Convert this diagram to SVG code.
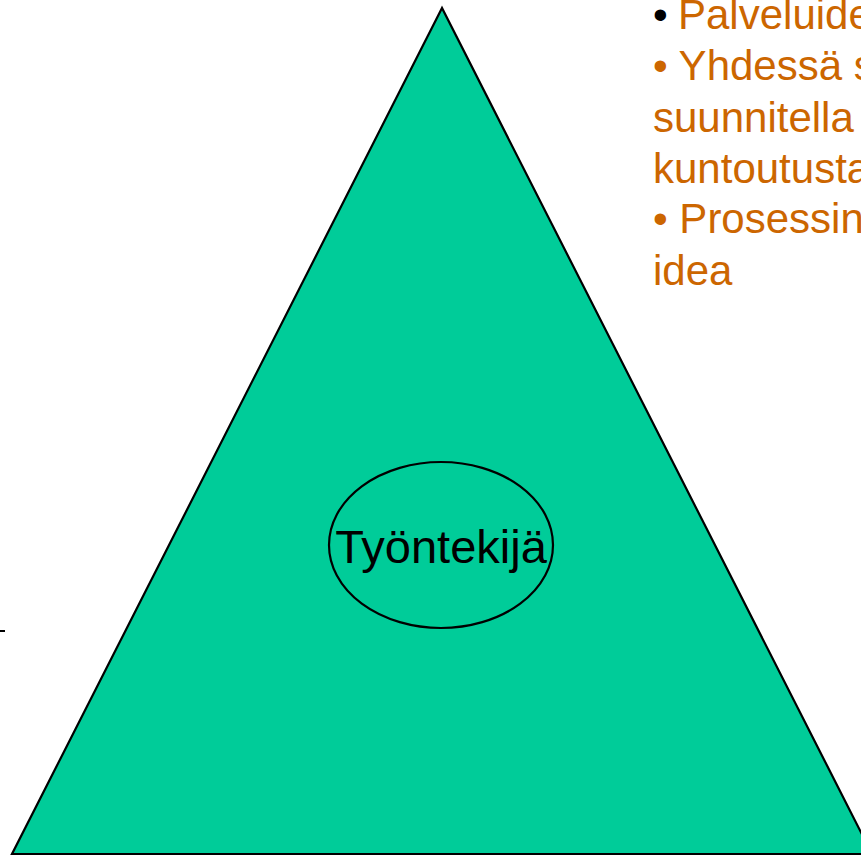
<svg xmlns="http://www.w3.org/2000/svg" width="861" height="856" viewBox="0 0 861 856">
<style>
.shape{stroke:#000;stroke-width:2.2;}
.txt{font-family:"Liberation Sans",Arial,sans-serif;font-size:42px;fill:#CC6600;}
.lbl{font-family:"Liberation Sans",Arial,sans-serif;font-size:47px;fill:#000;}
</style>
<rect width="861" height="856" fill="#fff"/>
<g id="triangle">
<polygon class="shape" points="442,8 12,854 872,854" fill="#00CC99"/>
</g>
<g id="worker">
<ellipse class="shape" cx="441" cy="545" rx="112" ry="83" fill="none"/>
<text class="lbl" x="441" y="563" text-anchor="middle">Työntekijä</text>
</g>
<g id="notes">
<text class="txt" x="653" y="29"><tspan fill="#000">•</tspan><tspan x="678">Palveluide</tspan></text>
<text class="txt" x="653" y="80">• Yhdessä s</text>
<text class="txt" x="653" y="132">suunnitella</text>
<text class="txt" x="653" y="183">kuntoutusta</text>
<text class="txt" x="653" y="233">• Prosessin</text>
<text class="txt" x="653" y="285">idea</text>
</g>
<g id="connectors">
<line x1="0" y1="631" x2="5" y2="631" stroke="#000" stroke-width="2"/>
</g>
</svg>
